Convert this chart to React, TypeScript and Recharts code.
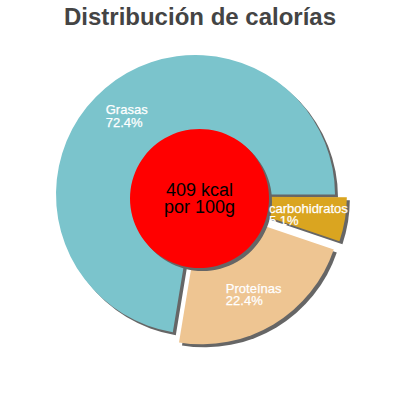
import React from "react";
import { Pie, PieChart } from "recharts";

const title = "Distribución de calorías";
const categories = ["Grasas", "Proteínas", "carbohidratos"];
const percents = [72.4, 22.4, 5.1];
const colors = ["#7bc4cc", "#eec592", "#daa520"];
const exploded = [false, true, true];
const centerLines = ["409 kcal", "por 100g"];

const CX = 195.5;
const CY = 194.5;
const R = 139.5;
const EXPLODE = 12;
const SHADOW = 3;
const RAD = Math.PI / 180;
const FONT = "'Liberation Sans', Arial, sans-serif";

let canvas: HTMLCanvasElement | null = null;
function textWidth(text: string, font: string) {
  if (!canvas) canvas = document.createElement("canvas");
  const ctx = canvas.getContext("2d");
  if (!ctx) return text.length * 7;
  ctx.font = font;
  return ctx.measureText(text).width;
}

function SliceLabel(props: any) {
  const { cx, cy, midAngle, name, value } = props;
  const x = cx + 104 * Math.cos(-midAngle * RAD);
  const y = cy + 104 * Math.sin(-midAngle * RAD);
  const pct = `${value.toFixed(1)}%`;
  const w = Math.max(textWidth(name, `13px ${FONT}`), textWidth(pct, `13px ${FONT}`)) + 3;
  return (
    <text x={x - w / 2} y={y} fill="#fff" stroke="#fff" strokeWidth={0.25} fontSize={13} fontFamily={FONT}>
      <tspan x={x - w / 2} y={y - 1}>{name}</tspan>
      <tspan x={x - w / 2} y={y + 11.5}>{pct}</tspan>
    </text>
  );
}

function CenterLabel(props: any) {
  const { cx, cy } = props;
  return (
    <text x={cx} y={cy} textAnchor="middle" fill="#000" fontSize={18} fontFamily={FONT}>
      <tspan x={cx} y={cy - 3}>{centerLines[0]}</tspan>
      <tspan x={cx} y={cy + 14}>{centerLines[1]}</tspan>
    </text>
  );
}

export default function App() {
  let cum = 0;
  const slices = percents.map((p, i) => {
    const startAngle = (360 * cum) / 100;
    cum += p;
    const endAngle = (360 * cum) / 100;
    const mid = ((startAngle + endAngle) / 2) * RAD;
    const off = exploded[i] ? EXPLODE : 0;
    return {
      name: categories[i],
      value: p,
      color: colors[i],
      startAngle,
      endAngle,
      cx: CX + off * Math.cos(mid),
      cy: CY - off * Math.sin(mid),
    };
  });

  return (
    <div style={{ position: "absolute", left: 0, top: 0, width: 400, height: 400, background: "#fff" }}>
      <div
        style={{
          position: "absolute",
          left: 0,
          top: 4.7,
          width: 400,
          textAlign: "center",
          fontFamily: FONT,
          fontWeight: "bold",
          fontSize: 24,
          lineHeight: "24px",
          color: "#444",
        }}
      >
        {title}
      </div>
      <PieChart
        width={400}
        height={400}
        margin={{ top: 0, right: 0, bottom: 0, left: 0 }}
        style={{ position: "absolute", left: 0, top: 0 }}
      >
        {slices.map((s) => (
          <Pie
            key={`shadow-${s.name}`}
            data={[s]}
            dataKey="value"
            nameKey="name"
            cx={s.cx + SHADOW}
            cy={s.cy + SHADOW}
            outerRadius={R}
            startAngle={s.startAngle}
            endAngle={s.endAngle}
            fill="#666"
            stroke="none"
            isAnimationActive={false}
          />
        ))}
        {slices.map((s) => (
          <Pie
            key={`slice-${s.name}`}
            data={[s]}
            dataKey="value"
            nameKey="name"
            cx={s.cx}
            cy={s.cy}
            outerRadius={R}
            startAngle={s.startAngle}
            endAngle={s.endAngle}
            fill={s.color}
            stroke="none"
            label={SliceLabel}
            labelLine={false}
            isAnimationActive={false}
          />
        ))}
        <Pie
          data={[{ name: "shadow", value: 1 }]}
          dataKey="value"
          cx={CX + 4 + SHADOW}
          cy={CY + 4 + SHADOW}
          outerRadius={69.5}
          fill="#666"
          stroke="none"
          isAnimationActive={false}
        />
        <Pie
          data={[{ name: "energy", value: 1 }]}
          dataKey="value"
          cx={CX + 4}
          cy={CY + 4}
          outerRadius={69.5}
          fill="#ff0000"
          stroke="none"
          label={CenterLabel}
          labelLine={false}
          isAnimationActive={false}
        />
      </PieChart>
    </div>
  );
}
